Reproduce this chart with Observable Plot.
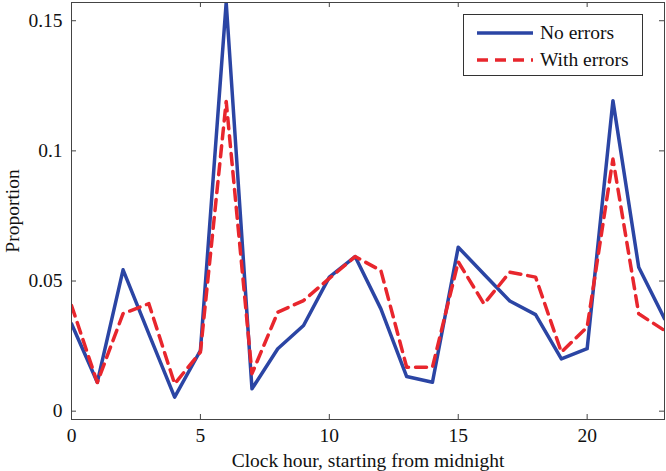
<!DOCTYPE html>
<html><head><meta charset="utf-8">
<script src="https://cdn.jsdelivr.net/npm/d3@7"></script>
<script src="https://cdn.jsdelivr.net/npm/@observablehq/plot@0.6"></script>
<style>
body{margin:0;background:#fff;}
#wrap{position:relative;width:666px;height:471px;font-family:"Liberation Serif","Times New Roman",serif;}
#legend{position:absolute;left:463px;top:14px;width:178px;height:60px;border:1px solid #333;background:#fff;font-size:19.5px;color:#111;}
.row{position:absolute;left:0;height:24px;width:178px;}
.row svg{position:absolute;left:12px;top:0;}
.row span{position:absolute;left:76px;top:1px;line-height:22px;white-space:nowrap;}
</style></head>
<body><div id="wrap"></div>
<script>
const hours = [0,1,2,3,4,5,6,7,8,9,10,11,12,13,14,15,16,17,18,19,20,21,22,23];
const noErrors = [0.0336,0.0111,0.0543,0.0297,0.0054,0.0233,0.157,0.0086,0.024,0.0329,0.0515,0.0594,0.0393,0.0133,0.0111,0.063,0.0526,0.0423,0.0371,0.0201,0.024,0.1193,0.0553,0.0355];
const withErrors = [0.0406,0.011,0.0375,0.0413,0.0105,0.0227,0.119,0.0144,0.038,0.0425,0.051,0.0594,0.054,0.0169,0.0169,0.0574,0.0412,0.0534,0.0515,0.0227,0.0323,0.0969,0.0374,0.031];
const seriesNames = ["No errors","With errors"];
const xTicks = [0,5,10,15,20];
const yTicks = [0,0.05,0.1,0.15];
const xLabel = "Clock hour, starting from midnight";
const yLabel = "Proportion";

const blue = "#2b45a4", red = "#e8262d", axisColor = "#444";
const data = hours.map((h,i)=>({hour:h, noErr:noErrors[i], withErr:withErrors[i]}));
const W = 666, H = 471, mL = 71, mR = 2, mT = 2, mB = 52;
const fw = W - mL - mR, fh = H - mT - mB, tk = 5;
const fs = 19.5;

const chart = Plot.plot({
  width: W, height: H, marginLeft: mL, marginRight: mR, marginTop: mT, marginBottom: mB,
  x: {domain: [0, 23]},
  y: {domain: [-0.0032, 0.157]},
  style: {fontFamily: '"Liberation Serif","Times New Roman",serif', fontSize: fs + "px", background: "white", color: "#111"},
  marks: [
    Plot.axisX(xTicks, {tickSize: 0, tickPadding: 9, label: null, fontSize: fs, tickFormat: d => String(d)}),
    Plot.axisY(yTicks, {tickSize: 0, tickPadding: 9, label: null, fontSize: fs, tickFormat: d => String(d)}),
    Plot.tickX(xTicks, {x: d => d, insetTop: fh - tk, stroke: axisColor}),
    Plot.tickX(xTicks, {x: d => d, insetBottom: fh - tk, stroke: axisColor}),
    Plot.tickY(yTicks, {y: d => d, insetRight: fw - tk, stroke: axisColor}),
    Plot.tickY(yTicks, {y: d => d, insetLeft: fw - tk, stroke: axisColor}),
    Plot.line(data, {x: "hour", y: "noErr", stroke: blue, strokeWidth: 3.5, clip: true}),
    Plot.line(data, {x: "hour", y: "withErr", stroke: red, strokeWidth: 3.5, strokeDasharray: "11,7", clip: true}),
    Plot.frame({stroke: axisColor, strokeWidth: 1}),
    Plot.text([xLabel], {text: d => d, frameAnchor: "bottom", dy: 41, lineAnchor: "middle", textAnchor: "middle", fontSize: fs}),
    Plot.text([yLabel], {text: d => d, frameAnchor: "left", dx: -59, rotate: -90, lineAnchor: "middle", textAnchor: "middle", fontSize: fs})
  ]
});
const wrap = document.getElementById("wrap");
wrap.appendChild(chart);

const legend = document.createElement("div");
legend.id = "legend";
const styles = [{stroke: blue, dash: null}, {stroke: red, dash: "11,7"}];
seriesNames.forEach((name, i) => {
  const row = document.createElement("div");
  row.className = "row";
  row.style.top = (6 + i * 27) + "px";
  const s = styles[i];
  row.innerHTML = `<svg width="58" height="24"><line x1="1" x2="57" y1="12" y2="12" stroke="${s.stroke}" stroke-width="3.5" ${s.dash ? `stroke-dasharray="${s.dash}"` : ""}/></svg><span>${name}</span>`;
  legend.appendChild(row);
});
wrap.appendChild(legend);
</script></body></html>
